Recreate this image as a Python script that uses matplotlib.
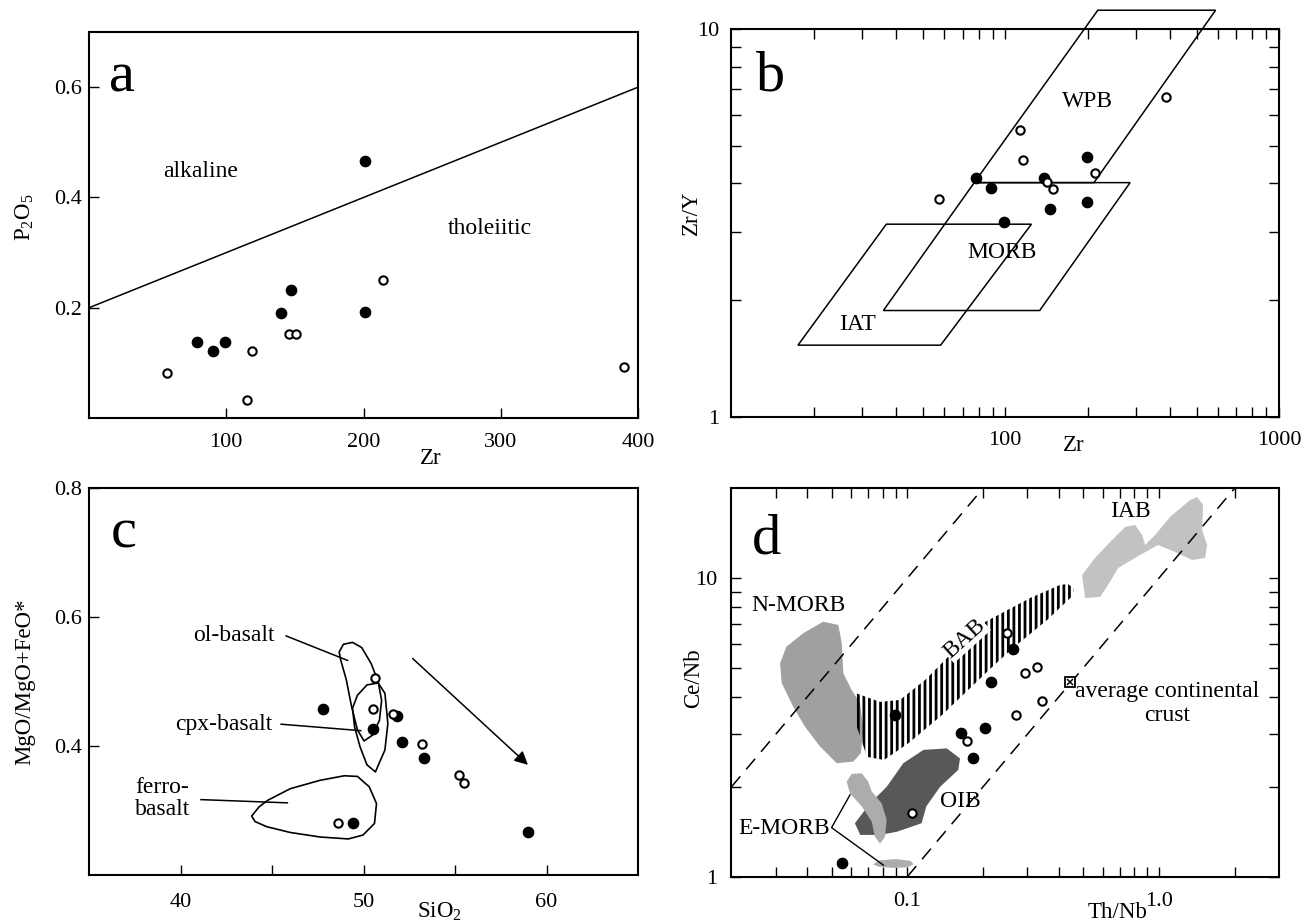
import matplotlib
matplotlib.use('Agg')
import matplotlib.pyplot as plt
from matplotlib.patches import Polygon
from matplotlib.ticker import FixedLocator, NullFormatter

plt.rcParams['font.family'] = ['Liberation Serif', 'DejaVu Serif']
plt.rcParams['mathtext.fontset'] = 'custom'
plt.rcParams['mathtext.rm'] = 'Liberation Serif'
plt.rcParams['mathtext.it'] = 'Liberation Serif:italic'
plt.rcParams['hatch.linewidth'] = 2.0

# ---- a: P2O5 vs Zr
a_zr_filled = [201, 79, 90, 99, 140, 147, 201]
a_p2o5_filled = [0.467, 0.138, 0.121, 0.138, 0.191, 0.232, 0.193]
a_zr_open = [57, 115, 118.5, 146, 151, 214, 390]
a_p2o5_open = [0.081, 0.033, 0.121, 0.152, 0.152, 0.250, 0.093]
a_line_zr = [0, 400]
a_line_p2o5 = [0.2, 0.6]

# ---- b: Zr/Y vs Zr
b_zr_filled = [78, 89, 99, 139, 146, 199, 199]
b_zry_filled = [4.14, 3.90, 3.19, 4.14, 3.44, 4.69, 3.59]
b_zr_open = [57.5, 113, 116, 142, 149, 212, 387]
b_zry_open = [3.64, 5.50, 4.60, 4.04, 3.86, 4.25, 6.67]
b_iat = [(17.5, 1.53), (36.8, 3.14), (124.7, 3.14), (58.1, 1.53)]
b_morb = [(35.9, 1.88), (77.1, 4.02), (286, 4.02), (133.7, 1.88)]
b_wpb = [(77.1, 4.02), (218, 11.2), (587, 11.2), (211, 4.02)]

# ---- c: MgO/(MgO+FeO*) vs SiO2
c_sio2_filled = [47.8, 50.5, 51.85, 52.1, 53.3, 49.4, 59.0]
c_mg_filled = [0.457, 0.426, 0.446, 0.407, 0.381, 0.281, 0.267]
c_sio2_open = [50.65, 50.5, 51.6, 53.2, 55.2, 55.5, 48.6]
c_mg_open = [0.506, 0.457, 0.450, 0.404, 0.355, 0.343, 0.281]
c_ol = [(48.67, 0.546), (48.90, 0.558), (49.40, 0.561), (49.90, 0.553), (50.42, 0.528),
        (50.80, 0.500), (50.99, 0.471), (50.87, 0.440), (50.49, 0.417), (50.03, 0.408),
        (49.67, 0.425), (49.35, 0.461), (49.06, 0.503), (48.76, 0.533)]
c_cpx = [(49.40, 0.459), (49.67, 0.479), (50.19, 0.495), (50.80, 0.498), (51.17, 0.482),
         (51.33, 0.435), (51.17, 0.394), (50.65, 0.360), (50.19, 0.371), (49.81, 0.399),
         (49.51, 0.430)]
c_ferro = [(43.89, 0.2915), (44.30, 0.306), (44.77, 0.316), (46.00, 0.334), (47.63, 0.347),
           (48.95, 0.354), (49.67, 0.353), (50.31, 0.337), (50.71, 0.311), (50.60, 0.280),
           (49.97, 0.262), (49.17, 0.256), (47.63, 0.259), (46.00, 0.266), (44.71, 0.275),
           (44.07, 0.283)]
c_arrow = [(52.57, 0.539), (59.10, 0.368)]

# ---- d: Ce/Nb vs Th/Nb
d_thnb_filled = [0.0896, 0.264, 0.216, 0.163, 0.204, 0.182, 0.0551]
d_cenb_filled = [3.47, 5.80, 4.50, 3.02, 3.15, 2.49, 1.11]
d_thnb_open = [0.249, 0.293, 0.329, 0.343, 0.270, 0.172, 0.104]
d_cenb_open = [6.53, 4.80, 5.05, 3.88, 3.47, 2.84, 1.63]
d_crust = (0.443, 4.48)
d_upper_x, d_upper_y = [0.02, 0.2], [2.0, 20.0]
d_lower_x, d_lower_y = [0.1, 2.0], [1.0, 20.0]
d_nmorb = [(0.0463, 7.15), (0.0532, 6.97), (0.0549, 6.05), (0.0557, 4.80), (0.0601, 4.22),
           (0.0649, 3.81), (0.0669, 3.10), (0.0653, 2.59), (0.061, 2.43), (0.0524, 2.40),
           (0.045, 2.73), (0.0392, 3.18), (0.0352, 3.71), (0.0317, 4.45), (0.0312, 5.19),
           (0.0331, 5.90), (0.0386, 6.54)]
d_bab = [(0.0619, 4.13), (0.0779, 3.85), (0.0935, 3.91), (0.1177, 4.56), (0.1548, 5.75),
         (0.2037, 7.13), (0.3076, 8.58), (0.4048, 9.49), (0.4356, 9.56), (0.46, 9.2),
         (0.452, 8.7), (0.3594, 7.24), (0.2632, 5.84), (0.2152, 5.00), (0.1374, 3.48),
         (0.1016, 2.81), (0.0808, 2.46), (0.0692, 2.52), (0.0631, 3.17)]
d_oib = [(0.0619, 1.51), (0.0711, 1.76), (0.0828, 2.00), (0.0964, 2.40), (0.116, 2.66),
         (0.1435, 2.69), (0.162, 2.49), (0.1595, 2.28), (0.135, 2.00), (0.119, 1.72),
         (0.114, 1.51), (0.091, 1.415), (0.078, 1.38), (0.065, 1.38)]
d_emorb1 = [(0.0574, 2.08), (0.0601, 2.21), (0.0659, 2.22), (0.070, 2.08), (0.0722, 1.93),
            (0.0791, 1.76), (0.0828, 1.55), (0.0815, 1.36), (0.0779, 1.29), (0.0744, 1.36),
            (0.0722, 1.53), (0.0659, 1.72), (0.0592, 1.90)]
d_emorb2 = [(0.073, 1.10), (0.078, 1.135), (0.090, 1.145), (0.103, 1.13), (0.106, 1.10),
            (0.100, 1.075), (0.088, 1.07), (0.077, 1.08)]
d_iab = [(0.509, 8.58), (0.495, 10.25), (0.557, 11.69), (0.652, 13.43), (0.734, 14.84),
         (0.804, 15.08), (0.858, 13.96), (0.882, 12.92), (0.966, 13.96), (1.108, 16.04),
         (1.331, 18.28), (1.419, 18.71), (1.499, 17.6), (1.485, 14.51), (1.555, 12.92),
         (1.527, 11.69), (1.355, 11.51), (1.160, 12.24), (0.993, 12.92), (0.842, 11.96),
         (0.689, 10.82), (0.628, 9.49), (0.584, 8.65)]

TICK_FS = 16
LABEL_FS = 16.5
TEXT_FS = 17


def points(ax, xf, yf, xo, yo):
    ax.plot(xf, yf, 'o', ms=7.4, color='black', zorder=6, clip_on=False)
    ax.plot(xo, yo, 'o', ms=6, mfc='white', mec='black', mew=1.5, zorder=6, clip_on=False)


def frame(ax, letter, lx, ly, ylab, ylx, yly, xlab, xlx, xly):
    for s in ax.spines.values():
        s.set_linewidth(1.5)
    ax.text(lx, ly, letter, transform=ax.transAxes, fontsize=42, va='baseline', ha='left')
    ax.text(ylx, yly, ylab, transform=ax.transAxes, fontsize=LABEL_FS, rotation=90,
            ha='center', va='center')
    ax.text(xlx, xly, xlab, transform=ax.transAxes, fontsize=LABEL_FS, ha='center', va='center')


fig = plt.figure(figsize=(13.05, 9.24), dpi=100)

# a
ax = fig.add_axes([0.0682, 0.5476, 0.4207, 0.4177])
ax.set_xlim(0, 400)
ax.set_ylim(0, 0.7)
ax.plot(a_line_zr, a_line_p2o5, color='black', lw=1.1)
points(ax, a_zr_filled, a_p2o5_filled, a_zr_open, a_p2o5_open)
ax.text(81, 0.447, 'alkaline', fontsize=TEXT_FS, ha='center', va='center')
ax.text(292, 0.343, 'tholeiitic', fontsize=TEXT_FS, ha='center', va='center')
ax.set_xticks([100, 200, 300, 400], ['100', '200', '300', '400'])
ax.set_yticks([0.2, 0.4, 0.6], ['0.2', '0.4', '0.6'])
ax.tick_params(axis='x', direction='in', length=7, width=1, labelsize=TICK_FS, pad=11)
ax.tick_params(axis='y', direction='in', length=7, width=1, labelsize=TICK_FS, pad=5)
frame(ax, 'a', 0.036, 0.845, 'P$_2$O$_5$', -0.117, 0.52, 'Zr', 0.623, -0.105)

# b
ax = fig.add_axes([0.5605, 0.5490, 0.4195, 0.4193])
ax.set_xscale('log')
ax.set_yscale('log')
ax.set_xlim(10, 1000)
ax.set_ylim(1, 10)
for field in (b_iat, b_morb, b_wpb):
    ax.add_patch(Polygon(field, closed=True, fill=False, ec='black', lw=1.1, clip_on=False))
points(ax, b_zr_filled, b_zry_filled, b_zr_open, b_zry_open)
ax.text(200, 6.5, 'WPB', fontsize=TEXT_FS, ha='center', va='center')
ax.text(97.5, 2.66, 'MORB', fontsize=TEXT_FS, ha='center', va='center')
ax.text(28.8, 1.73, 'IAT', fontsize=TEXT_FS, ha='center', va='center')
ax.xaxis.set_major_locator(FixedLocator([100, 1000]))
ax.set_xticklabels(['100', '1000'])
ax.xaxis.set_minor_locator(FixedLocator([20, 30, 40, 50, 60, 70, 80, 90,
                                         200, 300, 400, 500, 600, 700, 800, 900]))
ax.xaxis.set_minor_formatter(NullFormatter())
ax.yaxis.set_major_locator(FixedLocator([1, 10]))
ax.set_yticklabels(['1', '10'])
ax.yaxis.set_minor_locator(FixedLocator([2, 3, 4, 5, 6, 7, 8, 9]))
ax.yaxis.set_minor_formatter(NullFormatter())
ax.tick_params(which='both', direction='in', top=True, right=True, length=7, width=1,
               labelsize=TICK_FS)
ax.tick_params(axis='x', which='both', pad=10)
ax.tick_params(axis='y', which='both', pad=9)
frame(ax, 'b', 0.045, 0.843, 'Zr/Y', -0.073, 0.526, 'Zr', 0.626, -0.075)

# c
ax = fig.add_axes([0.0682, 0.0530, 0.4207, 0.4185])
ax.set_xlim(35, 65)
ax.set_ylim(0.2, 0.8)
for field in (c_ol, c_cpx, c_ferro):
    ax.add_patch(Polygon(field, closed=True, fill=False, ec='black', lw=1.2, joinstyle='round'))
ax.plot([45.77, 49.13], [0.571, 0.533], color='black', lw=1.1)
ax.plot([45.50, 49.85], [0.434, 0.424], color='black', lw=1.1)
ax.plot([41.12, 45.84], [0.317, 0.312], color='black', lw=1.1)
ax.annotate('', xy=c_arrow[1], xytext=c_arrow[0],
            arrowprops=dict(arrowstyle='-|>', color='black', lw=1.1, mutation_scale=20))
points(ax, c_sio2_filled, c_mg_filled, c_sio2_open, c_mg_open)
ax.text(42.9, 0.572, 'ol-basalt', fontsize=TEXT_FS, ha='center', va='center')
ax.text(42.37, 0.434, 'cpx-basalt', fontsize=TEXT_FS, ha='center', va='center')
ax.text(37.5, 0.319, 'ferro-\nbasalt', fontsize=TEXT_FS, ha='left', va='center', linespacing=1.1)
ax.set_xticks([40, 45, 50, 55, 60], ['40', '', '50', '', '60'])
ax.set_yticks([0.4, 0.6, 0.8], ['0.4', '0.6', '0.8'])
ax.tick_params(axis='x', direction='in', length=7, width=1, labelsize=TICK_FS, pad=13)
ax.tick_params(axis='y', direction='in', length=7, width=1, labelsize=TICK_FS, pad=5)
frame(ax, 'c', 0.04, 0.848, 'MgO/MgO+FeO*', -0.117, 0.50, 'SiO$_2$', 0.638, -0.096)

# d
ax = fig.add_axes([0.5605, 0.0512, 0.4195, 0.4203])
ax.set_xscale('log')
ax.set_yscale('log')
ax.set_xlim(0.02, 3)
ax.set_ylim(1, 20)
ax.add_patch(Polygon(d_nmorb, closed=True, fc='#a0a0a0', ec='none', zorder=2))
ax.add_patch(Polygon(d_bab, closed=True, fc='none', ec='black', lw=0, hatch='|||', zorder=3))
ax.add_patch(Polygon(d_oib, closed=True, fc='#585858', ec='none', zorder=3))
ax.add_patch(Polygon(d_emorb1, closed=True, fc='#acacac', ec='none', zorder=4))
ax.add_patch(Polygon(d_emorb2, closed=True, fc='#acacac', ec='none', zorder=4))
ax.add_patch(Polygon(d_iab, closed=True, fc='#c2c2c2', ec='none', zorder=2))
ax.plot(d_upper_x, d_upper_y, color='black', lw=1.1, ls=(0, (9, 6)), zorder=5)
ax.plot(d_lower_x, d_lower_y, color='black', lw=1.1, ls=(0, (9, 6)), zorder=5)
ax.plot([0.0592, 0.05, 0.0803], [1.88, 1.46, 1.094], color='black', lw=1.0, zorder=5)
ax.plot(*d_crust, 's', ms=7, mfc='white', mec='black', mew=1.3, zorder=6)
ax.plot(*d_crust, 'x', ms=5, color='black', mew=1.1, zorder=7)
points(ax, d_thnb_filled, d_cenb_filled, d_thnb_open, d_cenb_open)
ax.text(0.0369, 8.13, 'N-MORB', fontsize=TEXT_FS, ha='center', va='center')
ax.text(0.0493, 1.45, 'E-MORB', fontsize=TEXT_FS, ha='right', va='center')
ax.text(0.162, 1.78, 'OIB', fontsize=TEXT_FS, ha='center', va='center')
ax.text(0.1696, 6.29, 'BAB', fontsize=TEXT_FS, ha='center', va='center', rotation=42,
        zorder=6, bbox=dict(fc='white', ec='none', pad=0.5))
ax.text(0.768, 16.7, 'IAB', fontsize=TEXT_FS, ha='center', va='center')
ax.text(1.078, 3.80, 'average continental\ncrust', fontsize=TEXT_FS, ha='center',
        va='center', multialignment='center', linespacing=1.15)
ax.xaxis.set_major_locator(FixedLocator([0.1, 1.0]))
ax.set_xticklabels(['0.1', '1.0'])
ax.xaxis.set_minor_locator(FixedLocator([0.03, 0.04, 0.05, 0.06, 0.07, 0.08, 0.09,
                                         0.2, 0.3, 0.4, 0.5, 0.6, 0.7, 0.8, 0.9, 2.0]))
ax.xaxis.set_minor_formatter(NullFormatter())
ax.yaxis.set_major_locator(FixedLocator([1, 10]))
ax.set_yticklabels(['1', '10'])
ax.yaxis.set_minor_locator(FixedLocator([2, 3, 4, 5, 6, 7, 8, 9]))
ax.yaxis.set_minor_formatter(NullFormatter())
ax.tick_params(which='both', direction='in', top=True, right=True, length=7, width=1,
               labelsize=TICK_FS)
ax.tick_params(axis='x', which='both', pad=11)
ax.tick_params(axis='y', which='both', pad=10)
frame(ax, 'd', 0.038, 0.833, 'Ce/Nb', -0.069, 0.512, 'Th/Nb', 0.706, -0.091)

fig.savefig('out.png', dpi=100)
